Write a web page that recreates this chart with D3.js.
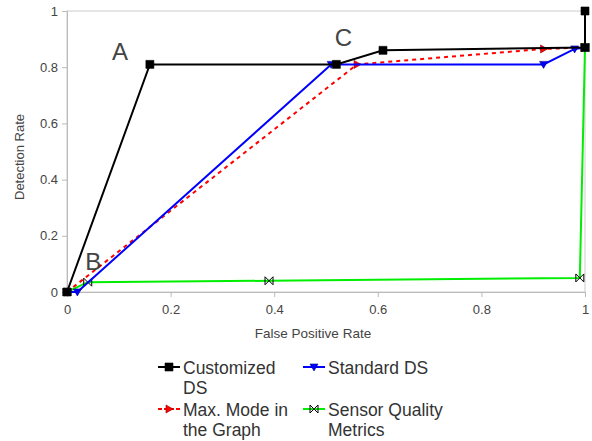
<!DOCTYPE html>
<html>
<head>
<meta charset="utf-8">
<script src="https://cdn.jsdelivr.net/npm/d3@7"></script>
<style>
body{margin:0;background:#fff;}
text{font-family:"Liberation Sans",Arial,sans-serif;}
</style>
</head>
<body>
<svg id="chart" width="592" height="441"></svg>
<script>
// series data (x = false positive rate, y = detection rate)
var customizedDS = [[0,0],[0.16,0.81],[0.52,0.81],[0.61,0.86],[1,0.87],[1,1]];
var maxMode = [[0,0],[0.56,0.81],[0.92,0.865],[1,0.87],[1,1]];
var standardDS = [[0,0],[0.02,0],[0.51,0.81],[0.92,0.81],[0.98,0.865],[1,0.87]];
var sensorQuality = [[0,0],[0.04,0.035],[0.39,0.04],[0.99,0.05],[1,0.87]];
var xTicks = [0,0.2,0.4,0.6,0.8,1];
var yTicks = [0,0.2,0.4,0.6,0.8,1];
var annotations = [{t:"A",x:0.087,y:0.826},{t:"B",x:0.035,y:0.078},{t:"C",x:0.517,y:0.875}];

var series = [
  {name:["Customized","DS"], data:customizedDS, color:"#000", dash:null, sym:"square"},
  {name:["Standard DS"], data:standardDS, color:"#0000ff", dash:null, sym:"down"},
  {name:["Max. Mode in","the Graph"], data:maxMode, color:"#ff0000", dash:"4,4", sym:"right"},
  {name:["Sensor Quality","Metrics"], data:sensorQuality, color:"#00ee00", dash:null, sym:"bowtie"}
];
// draw order: green, red, blue, black on top
var drawOrder = [3,2,1,0];

var svg = d3.select("#chart");
var x = d3.scaleLinear().domain([0,1]).range([67,585]);
var y = d3.scaleLinear().domain([0,1]).range([292,11]);
var axisColor = "#bbb", textColor = "#444";

// frame
svg.append("rect").attr("x",x(0)).attr("y",y(1)).attr("width",x(1)-x(0)).attr("height",y(0)-y(1))
  .attr("fill","none").attr("stroke","#ccc");

var gx = svg.append("g").attr("transform","translate(0,"+y(0)+")")
  .call(d3.axisBottom(x).tickValues(xTicks).tickFormat(d3.format("~g")).tickSize(5).tickPadding(8));
var gy = svg.append("g").attr("transform","translate("+x(0)+",0)")
  .call(d3.axisLeft(y).tickValues(yTicks).tickFormat(d3.format("~g")).tickSize(5).tickPadding(4));
[gx,gy].forEach(function(g){
  g.select(".domain").attr("stroke",axisColor);
  g.selectAll(".tick line").attr("stroke",axisColor);
  g.selectAll(".tick text").attr("fill",textColor).style("font-size","13px")
    .style("font-family","'Liberation Sans',Arial,sans-serif");
});

svg.append("text").attr("x",313).attr("y",338).attr("text-anchor","middle")
  .attr("fill",textColor).style("font-size","13.5px").text("False Positive Rate");
svg.append("text").attr("transform","translate(24,157) rotate(-90)")
  .attr("text-anchor","middle").attr("fill",textColor).style("font-size","13px").text("Detection Rate");

function symbolPath(sym, cx, cy){
  var s = 4;
  if(sym=="square") return "M"+(cx-s)+","+(cy-s)+"h"+(2*s)+"v"+(2*s)+"h"+(-2*s)+"Z";
  if(sym=="down") return "M"+(cx-s)+","+(cy-s+1)+"L"+(cx+s)+","+(cy-s+1)+"L"+cx+","+(cy+s)+"Z";
  if(sym=="right") return "M"+(cx-s+1)+","+(cy-s)+"L"+(cx+s)+","+cy+"L"+(cx-s+1)+","+(cy+s)+"Z";
  return "M"+(cx-s)+","+(cy-s)+"L"+(cx+s)+","+(cy+s)+"L"+(cx+s)+","+(cy-s)+"L"+(cx-s)+","+(cy+s)+"Z";
}
function symbolFill(d){ return d.sym=="bowtie" ? "none" : d.color; }
function symbolStroke(d){ return d.sym=="bowtie" ? "#000" : (d.sym=="square"?"#000":d.color=="#0000ff"?"#000088":"#880000"); }

var line = d3.line().x(function(p){return x(p[0]);}).y(function(p){return y(p[1]);});
drawOrder.forEach(function(i){
  var s = series[i];
  var g = svg.append("g");
  g.append("path").attr("d",line(s.data)).attr("fill","none").attr("stroke",s.color)
    .attr("stroke-width",2).attr("stroke-dasharray",s.dash);
  g.selectAll("path.mark").data(s.data).enter().append("path").attr("class","mark")
    .attr("d",function(p){return symbolPath(s.sym,x(p[0]),y(p[1]));})
    .attr("fill",symbolFill(s)).attr("stroke",symbolStroke(s)).attr("stroke-width",s.sym=="bowtie"?1:0.6);
});

svg.selectAll("text.ann").data(annotations).enter().append("text").attr("class","ann")
  .attr("x",function(d){return x(d.x);}).attr("y",function(d){return y(d.y);})
  .attr("fill",textColor).style("font-size","24px").text(function(d){return d.t;});

// legend
var legPos = [[158,367],[303,367],[158,409],[303,409]];
series.forEach(function(s,i){
  var lx = legPos[i][0], ly = legPos[i][1];
  var g = svg.append("g");
  g.append("line").attr("x1",lx).attr("x2",lx+22).attr("y1",ly).attr("y2",ly)
    .attr("stroke",s.color).attr("stroke-width",2).attr("stroke-dasharray",s.dash?"4,2":null);
  g.append("path").attr("d",symbolPath(s.sym,lx+11,ly)).attr("fill",symbolFill(s))
    .attr("stroke",symbolStroke(s)).attr("stroke-width",s.sym=="bowtie"?1:0.6);
  s.name.forEach(function(t,k){
    g.append("text").attr("x",lx+25).attr("y",ly+7+k*20).attr("fill","#333")
      .style("font-size","17.5px").text(t);
  });
});
</script>
</body>
</html>
